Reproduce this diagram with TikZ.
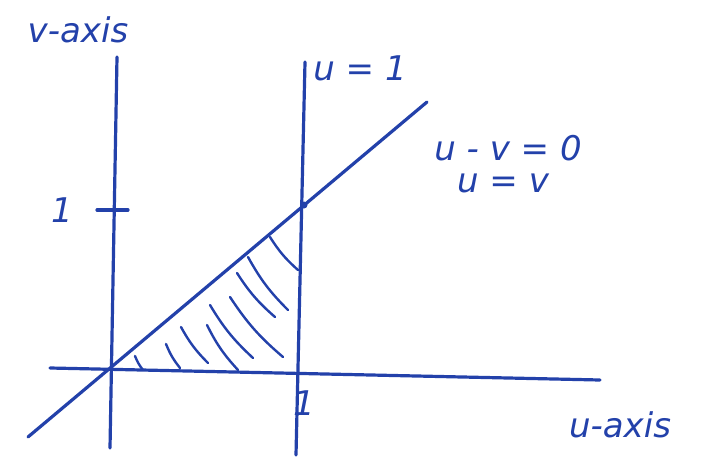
\documentclass[tikz,border=0pt]{standalone}
\usepackage{fontspec}
\setsansfont{DejaVu Sans}
\usepackage{tikz}
\usetikzlibrary{positioning, calc}
\definecolor{penblue}{RGB}{35,65,170}
\tikzstyle{pen} = [penblue, line width=3.2pt, line cap=round, line join=round]
\tikzstyle{hatch} = [penblue, line width=2.4pt, line cap=round]
\tikzstyle{hand} = [penblue, inner sep=0pt, font=\fontsize{34}{38}\selectfont\sffamily\itshape]

\begin{document}
\begin{tikzpicture}[x=1pt, y=-1pt]
  \useasboundingbox (0,0) rectangle (711,457);

  % Axes and lines
  \coordinate (vtop) at (117,57);
  \coordinate (vbot) at (110,448);
  \coordinate (uleft) at (50,368);
  \coordinate (uright) at (600,380);
  \coordinate (onetop) at (305,62);
  \coordinate (onebot) at (296,455);
  \coordinate (dlow) at (28,437);
  \coordinate (dhigh) at (427,102);
  \draw[pen] (vtop) -- (vbot);
  \draw[pen] (uleft) -- (uright);
  \draw[pen] (onetop) -- (onebot);
  \draw[pen] (dlow) -- (dhigh);

  % Ticks
  \coordinate (tickl) at (97,210);
  \coordinate (tickr) at (128,210);
  \draw[pen] (tickl) -- (tickr);
  \fill[penblue] (304,205) circle (3.5pt);

  % Hatching
  \foreach \ax/\ay/\bx/\by in {
      135/356/143/370, 166/344/180/368, 181/327/208/363,
      207/325/238/370, 210/305/253/358, 230/297/283/357,
      237/273/275/317, 248/257/288/310, 270/237/298/270}
    \draw[hatch] (\ax,\ay) to[bend right=8] (\bx,\by);

  % Labels
  \node[hand] (vlabel) at (78,30) {v-axis};
  \node[hand] (ulabel) at (620,425) {u-axis};
  \node[hand] (vone) at (62,210) {1};
  \node[hand] (uone) at (304,403) {1};
  \node[hand] (lineone) at (360,68) {u = 1};
  \node[hand] (diag) at (508,148) {u - v = 0};
  \node[hand] (diagb) at (503,183) {u = v};

\end{tikzpicture}
\end{document}
